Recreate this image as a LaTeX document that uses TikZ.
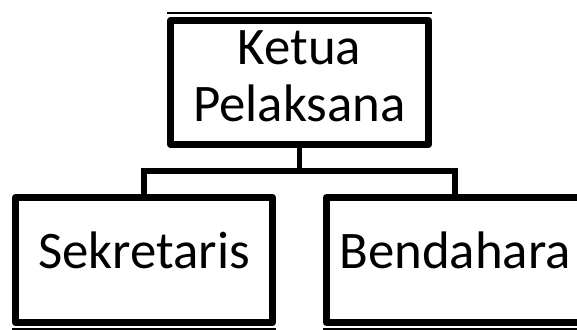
\documentclass[tikz,border=0pt]{standalone}
\usepackage{fontspec}
\setmainfont{Carlito}
\usepackage{tikz}

\tikzset{
  jabatan/.style = {draw, line width = 7bp, line join = round, inner sep = 0pt,
    minimum width = 257bp, minimum height = 125bp, align = center,
    text depth = 20bp, font = \fontsize{53}{57}\selectfont},
  garis/.style = {line width = 5.5bp},
  tipis/.style = {line width = 2bp}
}

\begin{document}
\begin{tikzpicture}[x = 1bp, y = -1bp]
			\useasboundingbox (0, 0) rectangle (577, 329);
			\node[jabatan, minimum width = 258bp, minimum height = 124bp, text depth = 13bp] (ketua) at (299.5, 82.5) {Ketua\\Pelaksana};
			\node[jabatan] (sekretaris) at (144, 260) {Sekretaris};
			\node[jabatan] (bendahara) at (455, 260) {Bendahara};
			\coordinate (cabang) at (299.5, 171);
			\draw[garis] (ketua.south) -- (cabang);
			\draw[garis] (cabang) -| (sekretaris.north);
			\draw[garis] (cabang) -| (bendahara.north);
			% garis tipis
			\draw[tipis] ([yshift = 4bp]ketua.north west) -- ([yshift = 4bp]ketua.north east);
			\draw[tipis] ([yshift = -2.5bp]sekretaris.south west) -- ([yshift = -2.5bp]sekretaris.south east);
			\draw[tipis] ([yshift = -2.5bp]bendahara.south west) -- ([yshift = -2.5bp]bendahara.south east);
		\end{tikzpicture}
\end{document}
